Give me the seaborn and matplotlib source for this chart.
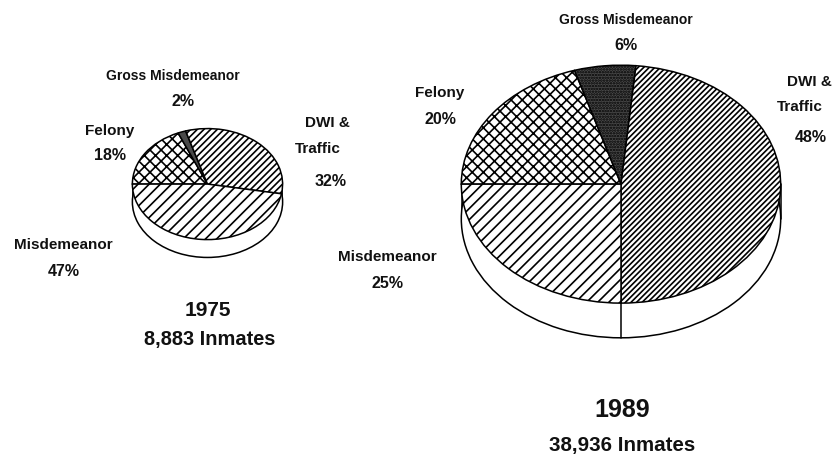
#!/usr/bin/env python3
import matplotlib
matplotlib.use("Agg")
import matplotlib.pyplot as plt
import seaborn as sns

# clockwise order, starting from the left horizontal
categories = ["Felony", "Gross Misdemeanor", "DWI & Traffic", "Misdemeanor"]
shares_1975 = [18.6, 1.7, 32.5, 47.2]
shares_1989 = [20.3, 6.2, 48.5, 25.0]
hatches_1975 = ["xxx", "", "/////", "///"]
hatches_1989 = ["xxx", "......", "//////", "///"]
faces = ["white", "#4a4a4a", "white", "white"]

W, H = 835, 457

sns.set_theme(style="white", rc={"hatch.linewidth": 1.2})
plt.rcParams["font.family"] = ["Liberation Sans", "DejaVu Sans"]

fig = plt.figure(figsize=(W / 100, H / 100), dpi=100, facecolor="white")


def pie3d(shares, hatches, cx, cy, rx, ry, depth):
    d = depth / ry
    ax = fig.add_axes([(cx - rx) / W, 1 - (cy + ry + depth) / H, 2 * rx / W, (2 * ry + depth) / H])
    props = {"edgecolor": "black", "linewidth": 1.1}
    # side wall
    ax.pie([1], colors=["white"], center=(0, -d), radius=1, wedgeprops=props)
    ax.plot([-1, -1], [0, -d], color="black", lw=1.1)
    ax.plot([1, 1], [0, -d], color="black", lw=1.1)
    # top face
    wedges, _ = ax.pie(shares, colors=faces, startangle=180, counterclock=False,
                       radius=1, wedgeprops=props)
    for w, h in zip(wedges, hatches):
        w.set_hatch(h)
    ax.set_aspect("auto")
    ax.set_xlim(-1.005, 1.005)
    ax.set_ylim(-1 - d - 0.01, 1.01)
    return ax, d


pie3d(shares_1975, hatches_1975, 207.5, 184, 75.5, 56, 18)
ax, d = pie3d(shares_1989, hatches_1989, 621, 184, 160.5, 120, 35)
ax.plot([0, 0], [-1, -1 - d], color="black", lw=1.1)


def label(x, y, s, size=11):
    fig.text(x / W, 1 - y / H, s, ha="center", va="center", fontsize=size,
             fontweight="bold", color="#111111")


label(173, 76, "Gross Misdemeanor", 10)
label(183, 101, "2%", 11.5)
label(110, 131, "Felony")
label(110, 155, "18%", 11.5)
label(327, 123, "DWI &")
label(318, 149, "Traffic")
label(331, 182, "32%", 11.5)
label(63, 245, "Misdemeanor")
label(64, 272, "47%", 11.5)
label(208, 310, "1975", 15)
label(210, 340, "8,883 Inmates", 14.4)

label(626, 20, "Gross Misdemeanor", 10)
label(626, 45, "6%", 11.5)
label(440, 93, "Felony")
label(440, 119, "20%", 11.5)
label(809, 82, "DWI &")
label(800, 107, "Traffic")
label(811, 137, "48%", 11.5)
label(387, 257, "Misdemeanor")
label(387, 283, "25%", 11.5)
label(622, 410, "1989", 18)
label(622, 445, "38,936 Inmates", 14.8)

fig.savefig("out.png", dpi=100)
plt.close(fig)
